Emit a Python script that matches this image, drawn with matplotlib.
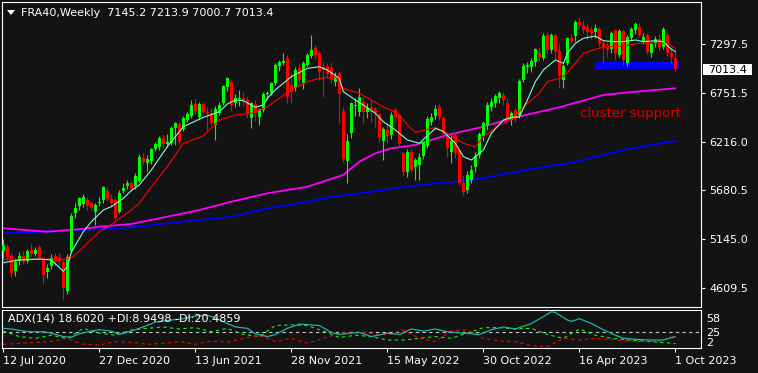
import matplotlib
matplotlib.use("Agg")
import matplotlib.pyplot as plt
from matplotlib.patches import Rectangle, Polygon
from matplotlib.transforms import blended_transform_factory
import numpy as np

W, H = 758, 373
BG = "#131313"
FG = "#ffffff"
BULL = "#00ff00"
BEAR = "#ff0000"

# weekly FRA40 candles, first = week of 12 Jul 2020, last = week of 1 Oct 2023
opens = [5014, 5058, 4958, 4793, 4904, 4958, 4904, 5025, 4977, 5055,
         4940, 4780, 4850, 4960, 4944, 4896, 4572, 5014, 5429, 5509,
         5528, 5576, 5539, 5440, 5540, 5576, 5675, 5587, 5576, 5447,
         5675, 5733, 5766, 5730, 5790, 6042, 5980, 6010, 6137, 6163,
         6255, 6192, 6200, 6365, 6409, 6358, 6457, 6501, 6633, 6486,
         6633, 6548, 6530, 6402, 6530, 6640, 6820, 6872, 6640, 6690,
         6700, 6677, 6476, 6633, 6493, 6567, 6740, 6751, 6861, 7050,
         7081, 7136, 6842, 6806, 7026, 6860, 7063, 7162, 7246, 7191,
         7045, 7050, 7026, 6876, 6978, 6560, 6000, 6310, 6607, 6548,
         6660, 6550, 6590, 6580, 6520, 6230, 6347, 6292, 6567, 6512,
         6090, 5880, 6108, 5943, 5960, 6060, 6170, 6440, 6500, 6596,
         6475, 6280, 6100, 6292, 6126, 5760, 5686, 5796, 5943, 6070,
         6281, 6400, 6603, 6640, 6700, 6735, 6640, 6457, 6567, 6512,
         6898, 7045, 7044, 7100, 7191, 7137, 7390, 7228, 7390, 7220,
         6900, 7081, 7357, 7382, 7540, 7504, 7478, 7448, 7430, 7456,
         7302, 7272, 7236, 7448, 7173, 7441, 7081, 7360, 7450, 7485,
         7320, 7393, 7192, 7302, 7345, 7265, 7390, 7200, 7145.2]
highs = [5146, 5096, 4990, 4935, 5000, 5010, 5040, 5100, 5060, 5080,
         4952, 4870, 4980, 4990, 4990, 4915, 4985, 5432, 5540, 5610,
         5640, 5610, 5570, 5540, 5610, 5730, 5720, 5640, 5600, 5690,
         5765, 5800, 5790, 5870, 6080, 6090, 6070, 6150, 6220, 6280,
         6290, 6300, 6390, 6440, 6440, 6500, 6540, 6680, 6690, 6650,
         6660, 6600, 6590, 6610, 6650, 6840, 6930, 6900, 6740, 6790,
         6760, 6720, 6660, 6680, 6590, 6760, 6780, 6880, 7090, 7120,
         7190, 7170, 6975, 7040, 7080, 7110, 7200, 7393, 7280, 7220,
         7100, 7090, 7100, 6990, 7000, 6600, 6300, 6660, 6700, 6810,
         6720, 6640, 6680, 6600, 6530, 6380, 6420, 6540, 6600, 6520,
         6100, 6140, 6140, 6040, 6090, 6230, 6500, 6530, 6620, 6630,
         6500, 6330, 6290, 6330, 6130, 5850, 5900, 5960, 6100, 6320,
         6450, 6660, 6700, 6740, 6780, 6770, 6700, 6560, 6600, 6910,
         7080, 7100, 7140, 7250, 7260, 7420, 7430, 7420, 7420, 7290,
         7070, 7370, 7400, 7560, 7588, 7560, 7530, 7490, 7510, 7480,
         7330, 7320, 7440, 7460, 7460, 7460, 7390, 7480, 7540, 7530,
         7420, 7420, 7320, 7380, 7400, 7480, 7420, 7260, 7213.9]
lows = [4915, 4915, 4730, 4740, 4860, 4870, 4880, 4950, 4960, 4930,
        4650, 4720, 4820, 4850, 4860, 4474, 4545, 4990, 5380, 5470,
        5500, 5460, 5460, 5300, 5510, 5540, 5560, 5500, 5350, 5430,
        5650, 5700, 5680, 5700, 5770, 5960, 5900, 5970, 6110, 6130,
        6150, 6160, 6180, 6180, 6180, 6340, 6440, 6480, 6520, 6470,
        6520, 6347, 6400, 6240, 6510, 6620, 6780, 6560, 6600, 6610,
        6610, 6480, 6370, 6450, 6400, 6550, 6680, 6730, 6840, 7000,
        7060, 6640, 6644, 6780, 6830, 6800, 7050, 7140, 7120, 6900,
        6714, 6920, 6850, 6830, 6420, 5990, 5760, 6260, 6500, 6500,
        6420, 6480, 6430, 6370, 6200, 6020, 6200, 6250, 6440, 6170,
        5850, 5830, 5880, 5800, 5800, 6030, 6150, 6400, 6470, 6460,
        6250, 6050, 5980, 6040, 5740, 5630, 5650, 5760, 5880, 6040,
        6230, 6350, 6560, 6600, 6640, 6620, 6440, 6400, 6440, 6480,
        6880, 6980, 6990, 7050, 7110, 7120, 7180, 7200, 7130, 6810,
        6806, 7060, 7290, 7330, 7470, 7420, 7340, 7350, 7360, 7270,
        7088, 7150, 7200, 7120, 7150, 7063, 7050, 7340, 7400, 7370,
        7290, 7180, 7150, 7260, 7220, 7240, 7160, 7090, 7000.7]
closes = [5075, 4945, 4775, 4890, 4960, 4895, 5010, 4980, 5030, 4934,
          4749, 4830, 4940, 4904, 4904, 4610, 4951, 5399, 5484, 5601,
          5605, 5509, 5484, 5520, 5551, 5716, 5590, 5545, 5380, 5656,
          5710, 5766, 5700, 5840, 6050, 5990, 6030, 6140, 6192, 6255,
          6192, 6218, 6365, 6420, 6220, 6475, 6523, 6622, 6556, 6633,
          6548, 6537, 6427, 6574, 6622, 6835, 6916, 6622, 6700, 6700,
          6680, 6530, 6640, 6530, 6567, 6740, 6758, 6861, 7063, 7099,
          7110, 6714, 6768, 7008, 6900, 7086, 7173, 7228, 7173, 6990,
          7008, 6960, 6898, 6931, 6744, 6030, 6230, 6640, 6618, 6714,
          6550, 6590, 6580, 6533, 6258, 6354, 6285, 6512, 6493, 6187,
          5882, 6100, 5905, 6020, 6050, 6210, 6470, 6490, 6580, 6493,
          6300, 6150, 6230, 6090, 5760, 5668, 5851, 5906, 6060, 6300,
          6420, 6620, 6660, 6720, 6750, 6680, 6457, 6530, 6470, 6890,
          7050, 7060, 7110, 7236, 7154, 7380, 7228, 7390, 7220, 6940,
          7050, 7357, 7325, 7540, 7504, 7448, 7430, 7412, 7467, 7302,
          7265, 7228, 7412, 7192, 7441, 7118, 7375, 7460, 7520, 7393,
          7370, 7210, 7302, 7345, 7246, 7456, 7200, 7150, 7013.4]

# moving averages, (candle index, value)
fast_ma_idx = [0, 4, 9, 12, 15, 16, 17, 20, 22, 25, 27, 30, 32, 34, 37, 41,
               45, 50, 54, 56, 58, 60, 63, 65, 66, 68, 72, 76, 79, 81, 84,
               85, 88, 90, 93, 95, 98, 101, 104, 108, 110, 113, 115, 117,
               120, 122, 125, 127, 129, 131, 133, 135, 138, 140, 141, 143,
               145, 148, 150, 153, 155, 158, 160, 163, 165, 167, 168]
fast_ma_val = [4885, 4915, 4925, 4915, 4790, 4840, 5000, 5226, 5336, 5465,
               5502, 5594, 5680, 5741, 5906, 6163, 6383, 6486, 6548, 6633,
               6677, 6670, 6597, 6622, 6696, 6790, 6934, 7026, 7044, 7008,
               6916, 6769, 6677, 6622, 6531, 6438, 6347, 6237, 6200, 6365,
               6330, 6200, 6053, 6016, 6126, 6310, 6457, 6486, 6493, 6677,
               6879, 7008, 7118, 7081, 7191, 7302, 7357, 7382, 7330, 7320,
               7320, 7338, 7320, 7330, 7320, 7236, 7210]
slow_ma_idx = [0, 15, 17, 20, 24, 28, 32, 34, 37, 41, 45, 50, 54, 58, 62,
               66, 68, 72, 76, 79, 83, 85, 89, 92, 95, 99, 101, 103, 108,
               111, 115, 118, 120, 124, 127, 130, 134, 136, 139, 140, 143,
               145, 148, 150, 155, 159, 163, 166, 168]
slow_ma_val = [4922, 4922, 4934, 5055, 5226, 5336, 5465, 5539, 5722, 5943,
               6200, 6281, 6457, 6512, 6531, 6603, 6665, 6787, 6879, 6916,
               6934, 6806, 6751, 6677, 6603, 6520, 6402, 6320, 6376, 6310,
               6200, 6163, 6273, 6402, 6457, 6603, 6751, 6879, 6916, 6934,
               7081, 7191, 7236, 7258, 7272, 7302, 7302, 7302, 7247]
ma100_idx = [0, 11, 19, 24, 32, 41, 49, 57, 66, 76, 85, 89, 93, 97, 103,
             111, 120, 128, 139, 150, 158, 168]
ma100_val = [5264, 5226, 5253, 5282, 5311, 5392, 5465, 5557, 5649, 5722,
             5851, 5998, 6090, 6145, 6182, 6292, 6383, 6486, 6597, 6732,
             6769, 6806]
ma200_idx = [0, 11, 19, 32, 41, 49, 57, 66, 74, 82, 92, 100, 108, 117, 125,
             133, 142, 150, 155, 168]
ma200_val = [5215, 5226, 5245, 5274, 5319, 5355, 5392, 5484, 5539, 5612,
             5667, 5716, 5760, 5796, 5859, 5925, 5986, 6071, 6126, 6229]

# ADX(14) sub window
adx_idx = [0, 2, 5, 7, 10, 12, 15, 17, 19, 22, 24, 27, 29, 32, 35, 38, 42,
           45, 48, 51, 53, 56, 58, 61, 63, 66, 68, 71, 74, 77, 79, 82, 84,
           87, 89, 92, 96, 99, 102, 105, 108, 111, 115, 119, 122, 125, 128,
           132, 135, 137, 138, 141, 142, 144, 147, 150, 153, 155, 158, 162,
           165, 166, 168]
adx_val = [31, 30, 27, 26, 26, 24, 19, 18, 23, 27, 29, 27, 22, 27, 33, 40,
           43, 45, 49, 50, 46, 38, 33, 31, 23, 19, 22, 31, 37, 36, 35, 25,
           22, 24, 25, 19, 24, 22, 30, 27, 30, 26, 24, 22, 29, 33, 30, 38,
           48, 55, 54, 43, 41, 45, 38, 29, 21, 16.5, 15, 14, 14, 16, 18.6]
pdi_idx = list(range(0, 169, 4))
pdi_val = [27, 19, 16.5, 21, 16, 31, 24, 21, 28.6, 31, 33, 30, 32, 26, 31,
           22, 19, 35, 36, 35, 27, 17.5, 21, 19, 14, 14, 16.5, 19, 16.5,
           24, 32, 32, 30, 31, 22, 16.5, 30, 21, 16.5, 14, 12.6, 10.7, 8.95]
mdi_idx = list(range(0, 169, 4))
mdi_val = [7.8, 9.3, 10.7, 11.7, 16.5, 7.8, 6.8, 11.7, 10.7, 7.8, 9.3, 11.7,
           7.8, 12.6, 10.7, 16.5, 20.4, 11.7, 16.5, 9.3, 16.5, 23.8, 26.2,
           23.8, 21.4, 28.6, 16.5, 11.7, 27.2, 28.6, 16.5, 12.6, 11.7, 5.9,
           4.4, 16.5, 14.1, 16.5, 15, 12.6, 11.7, 11.7, 20.49]

date_ticks = [0, 24, 48, 72, 96, 120, 144, 168]
date_labels = ["12 Jul 2020", "27 Dec 2020", "13 Jun 2021", "28 Nov 2021",
               "15 May 2022", "30 Oct 2022", "16 Apr 2023", "1 Oct 2023"]
price_ticks = [7297.5, 6751.5, 6216.0, 5680.5, 5145.0, 4609.5]
last_price = 7013.4

# blue "cluster support" box
support_lo, support_hi = 7018, 7099
support_from, support_to = 147.9, 168.9


def fx(x):
    return x / W


def fy(y):
    return 1 - y / H


fig = plt.figure(figsize=(W / 100, H / 100), dpi=100, facecolor=BG)
plt.rcParams["font.family"] = ["DejaVu Sans"]

ax = fig.add_axes([fx(2), fy(307), 699 / W, 305 / H])
ax.set_facecolor(BG)
ax.set_xlim(-0.325, 174.4)
ax.set_ylim(4396.7, 7756.9)

n = len(closes)
idx = np.arange(n)
o = np.array(opens, float)
hh = np.array(highs, float)
ll = np.array(lows, float)
c = np.array(closes, float)
col = np.where(c >= o, BULL, BEAR)

# support box behind candles
ax.add_patch(Rectangle((support_from, support_lo), support_to - support_from,
                       support_hi - support_lo, fc="#0000ff", ec="none",
                       zorder=1))

ax.plot(ma200_idx, ma200_val, color="#0000ff", lw=1.3, zorder=2)
ax.plot(ma100_idx, ma100_val, color="#ff00ff", lw=1.3, zorder=2.1)

ax.vlines(idx, ll, hh, colors=col, lw=0.8, zorder=3)
body = np.maximum(np.abs(c - o), 12)
bottom = np.minimum(o, c) - (body - np.abs(c - o)) / 2
ax.bar(idx, body, bottom=bottom, width=0.72, color=col, linewidth=0,
       zorder=3.5)

ax.plot(slow_ma_idx, slow_ma_val, color="#ff0000", lw=0.8, zorder=4)
ax.plot(fast_ma_idx, fast_ma_val, color="#7fffd4", lw=0.8, zorder=4.1)

ax.text(156.7, 7778.9 - 11.017 * 117.3, "cluster support", color="#e00000",
        fontsize=9.5, ha="center", va="baseline", zorder=5)

for s in ax.spines.values():
    s.set_color(FG)
    s.set_linewidth(0.8)
ax.set_xticks([])
ax.set_yticks(price_ticks)
ax.set_yticklabels(["%.1f" % p for p in price_ticks])
ax.tick_params(axis="y", left=False, right=True, labelleft=False,
               labelright=True, direction="out", length=3, width=0.8,
               color=FG, labelcolor=FG, labelsize=8, pad=3)

# current price tag
fig.patches.append(Rectangle((fx(702.7), fy(75.3)), 49 / W, 11 / H,
                             transform=fig.transFigure, fc="white",
                             ec="none", zorder=5))
fig.text(fx(708), fy(70), "%.1f" % last_price, color="black", fontsize=8,
         ha="left", va="center", zorder=6)

# header
fig.patches.append(Polygon([(fx(7), fy(10)), (fx(15), fy(10)),
                            (fx(11), fy(15))], closed=True,
                           transform=fig.transFigure, fc=FG, ec="none"))
fig.text(fx(21), fy(13), "FRA40,Weekly  %.1f %.1f %.1f %.1f"
         % (opens[-1], highs[-1], lows[-1], closes[-1]),
         color=FG, fontsize=8, ha="left", va="center")

# indicator window
ai = fig.add_axes([fx(2), fy(348.3), 699 / W, 38.6 / H])
ai.set_facecolor(BG)
ai.set_xlim(-0.325, 174.4)
ai.set_ylim(2, 58)
ai.axhline(25, color="#c8c8c8", lw=0.8, ls=(0, (3, 3)), zorder=1)
ai.plot(pdi_idx, pdi_val, color="#00ff00", lw=0.8, ls=(0, (3, 3)), zorder=2)
ai.plot(mdi_idx, mdi_val, color="#ff0000", lw=0.8, ls=(0, (3, 3)), zorder=2)
ai.plot(adx_idx, adx_val, color="#20b2aa", lw=0.9, zorder=3)
for s in ai.spines.values():
    s.set_color(FG)
    s.set_linewidth(0.8)
ai.set_yticks([])
ai.set_xticks(date_ticks)
ai.set_xticklabels([])
ai.tick_params(axis="x", direction="out", length=3, width=0.8, color=FG)
ai.text(0.008, 0.76, "ADX(14) %.4f +DI:%.4f -DI:%.4f"
        % (18.6020, 8.9498, 20.4859), transform=ai.transAxes,
        color=FG, fontsize=8, ha="left", va="center", zorder=5)

tr = blended_transform_factory(ai.transData, fig.transFigure)
for t, lab in zip(date_ticks, date_labels):
    ai.text(t - 0.1, fy(360.5), lab, transform=tr, color=FG, fontsize=8,
            ha="left", va="center", clip_on=False)

for lab, y in [("58", 318.7), ("25", 333.3), ("2", 342.5)]:
    fig.text(fx(706), fy(y), lab, color=FG, fontsize=8, ha="left",
             va="center")

fig.savefig("out.png", dpi=100, facecolor=BG)
